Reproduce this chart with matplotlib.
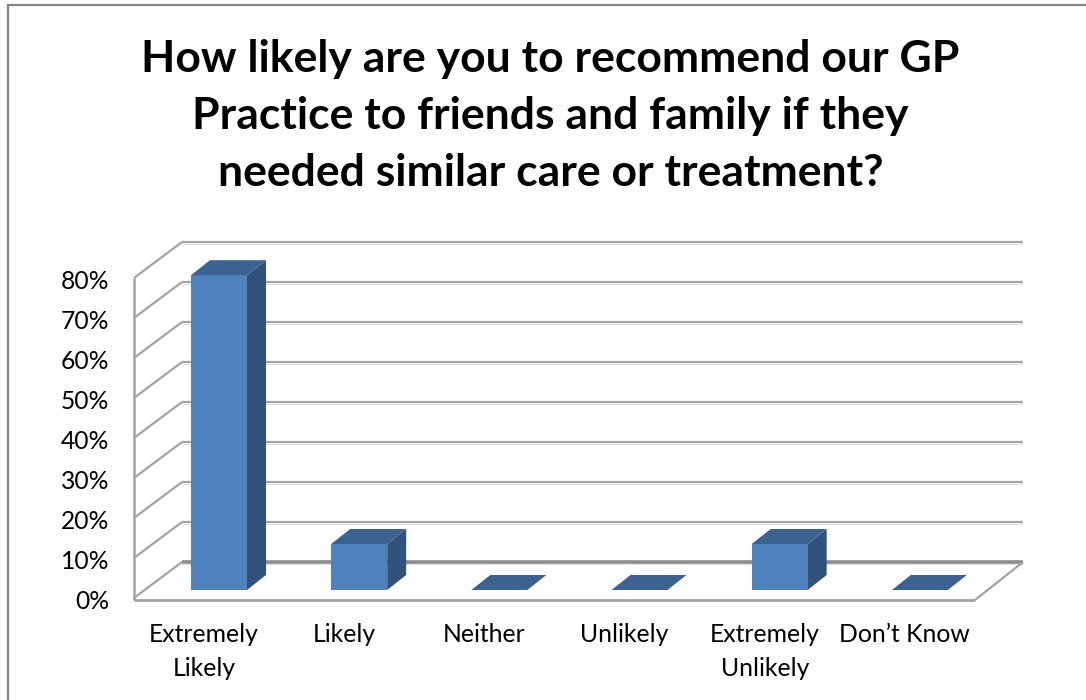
import matplotlib
matplotlib.use("Agg")
import matplotlib.pyplot as plt
from matplotlib.patches import Polygon, Rectangle

plt.rcParams["font.family"] = ["Lato", "DejaVu Sans"]

categories = ["Extremely\nLikely", "Likely", "Neither", "Unlikely", "Extremely\nUnlikely", "Don\u2019t Know"]
values = [78.7, 11.5, 0, 0, 11.5, 0]
y_ticks = [0, 10, 20, 30, 40, 50, 60, 70, 80]
title = "How likely are you to recommend our GP\nPractice to friends and family if they\nneeded similar care or treatment?"

W, H = 1086, 700
# pixel scale of the front plane
x0_px, y0_px = 134, 598
cat_px = 140.17
pct_px = 4.0

fig = plt.figure(figsize=(W / 100, H / 100), dpi=100)
ax = fig.add_axes([0, 0, 1, 1])
ax.set_xlim(-x0_px / cat_px, (W - x0_px) / cat_px)
ax.set_ylim((y0_px - H) / pct_px, y0_px / pct_px)
ax.axis("off")

# oblique offsets in data units
back_dx = 48 / cat_px
back_dy = 36 / pct_px
bar_dx = 19 / cat_px
bar_dy = 15 / pct_px
bar_left = 57 / cat_px
bar_w = 56 / cat_px
bar_base = 8 / pct_px
n = len(categories)
grid_col = "#a3a3a3"

def line(xs, ys, lw=1.6, col=grid_col, z=1):
    ax.plot(xs, ys, color=col, lw=lw, zorder=z, solid_capstyle="butt")

# walls and floor
for t in y_ticks:
    lw = 2.6 if t == 0 else 1.6
    col = "#8c8c8c" if t == 0 else grid_col
    line([0, back_dx], [t, t + back_dy], z=1)
    line([back_dx, n + back_dx], [t + back_dy, t + back_dy], lw=lw, col=col)
    line([back_dx, n + back_dx], [t + back_dy - 0.45, t + back_dy - 0.45], lw=1, col="#e2e2e2", z=0.5)
line([0, 0], [-0.5, y_ticks[-1]], lw=1.8)
line([0, n], [-0.5, -0.5], lw=2.0)
line([n, n + back_dx], [-0.5, back_dy], lw=1.6)

# bars
for i, v in enumerate(values):
    x = i + bar_left
    y = bar_base
    front = "#4f81bd"
    side = "#31527a"
    top = "#3b6291"
    if v > 0:
        ax.add_patch(Polygon([(x + bar_w, y), (x + bar_w + bar_dx, y + bar_dy),
                              (x + bar_w + bar_dx, y + v + bar_dy), (x + bar_w, y + v)],
                             fc=side, ec="none", zorder=3))
        ax.add_patch(Rectangle((x, y), bar_w, v, fc=front, ec="none", zorder=3))
    ax.add_patch(Polygon([(x, y + v), (x + bar_w, y + v), (x + bar_w + bar_dx, y + v + bar_dy),
                          (x + bar_dx, y + v + bar_dy)], fc=top, ec="none", zorder=3))

# labels
for t in y_ticks:
    ax.text(-25 / cat_px, t - 0.8, f"{t}%", ha="right", va="center", fontsize=17.7, color="black")
for i, c in enumerate(categories):
    ax.text(i + 0.5, -6.2, c, ha="center", va="top", fontsize=17.8, color="black", linespacing=1.6)

fig.text(550.5 / W, 1 - 116 / H, title, ha="center", va="center", fontsize=32, fontweight="bold",
         color="black", linespacing=1.52)

# chart frame, open on the right and bottom as cropped
fig.add_artist(plt.Line2D([8 / W, 8 / W], [0, 1 - 4.5 / H], color="#868686", lw=1.6))
fig.add_artist(plt.Line2D([8 / W, 1], [1 - 4.5 / H, 1 - 4.5 / H], color="#868686", lw=1.6))

fig.savefig("out.png", dpi=100)
